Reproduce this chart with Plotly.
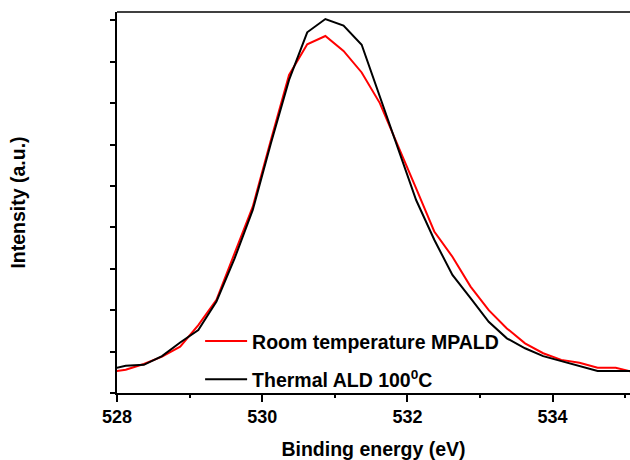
import plotly.graph_objects as go

# Binding energy grid (eV)
energy = [527.87, 528.12, 528.37, 528.62, 528.87, 529.12, 529.37, 529.62, 529.87,
          530.12, 530.37, 530.62, 530.87, 531.12, 531.37, 531.62, 531.87, 532.12,
          532.37, 532.62, 532.87, 533.12, 533.37, 533.62, 533.87, 534.12, 534.37,
          534.62, 534.87, 535.12]

# O 1s intensity (arbitrary units)
room_temp_mpald = [0.50, 0.56, 0.70, 0.88, 1.12, 1.64, 2.25, 3.37, 4.50,
                   6.11, 7.68, 8.42, 8.62, 8.26, 7.74, 7.00, 5.95, 4.94,
                   3.90, 3.29, 2.57, 2.00, 1.56, 1.20, 0.96, 0.80, 0.73,
                   0.61, 0.61, 0.50]

thermal_ald = [0.56, 0.66, 0.68, 0.89, 1.22, 1.52, 2.21, 3.25, 4.42,
               6.03, 7.56, 8.71, 9.03, 8.87, 8.41, 7.16, 5.91, 4.66,
               3.70, 2.85, 2.29, 1.72, 1.32, 1.08, 0.89, 0.77, 0.64,
               0.53, 0.53, 0.53]

x_ticks = [528, 530, 532, 534]

FONT = "Liberation Sans, Arial, Helvetica, sans-serif"

fig = go.Figure()
fig.add_trace(go.Scatter(
    x=energy, y=room_temp_mpald, mode="lines",
    name="Room temperature MPALD", legendgroup="a",
    line=dict(color="#ff0000", width=2),
))
fig.add_trace(go.Scatter(
    x=energy, y=thermal_ald, mode="lines",
    name="Thermal ALD 100<sup>0</sup>C", legendgroup="b",
    line=dict(color="#000000", width=2),
))

fig.update_layout(
    width=630, height=460,
    margin=dict(l=117, r=0, t=12, b=67),
    paper_bgcolor="white", plot_bgcolor="white",
    font=dict(family=FONT, size=19, color="black", weight="bold"),
    showlegend=True,
    legend=dict(
        x=0.162, y=0.187, xanchor="left", yanchor="top",
        bgcolor="rgba(0,0,0,0)", tracegroupgap=10, itemwidth=42,
        font=dict(family=FONT, size=19.5, weight="bold"),
    ),
    xaxis=dict(
        range=[528, 535.066],
        tickvals=x_ticks, ticktext=[str(v) for v in x_ticks],
        ticks="outside", ticklen=7, tickwidth=1.5, tickcolor="black",
        minor=dict(dtick=1, ticks="outside", ticklen=3, tickwidth=1.5, tickcolor="black"),
        showline=True, linecolor="black", linewidth=1.5,
        showgrid=False, zeroline=False,
        tickfont=dict(family=FONT, size=18, weight="bold"),
        title=dict(text="Binding energy (eV)", standoff=16,
                   font=dict(family=FONT, size=19.5, weight="bold")),
    ),
    yaxis=dict(
        range=[0, 9.2], dtick=1, tick0=0,
        showticklabels=False,
        ticks="outside", ticklen=5, tickwidth=1.5, tickcolor="black",
        showline=True, linecolor="black", linewidth=1.5,
        showgrid=False, zeroline=False,
        title=dict(text="Intensity (a.u.)", standoff=79,
                   font=dict(family=FONT, size=19.5, weight="bold")),
    ),
    shapes=[dict(type="line", xref="paper", yref="paper", x0=0, x1=1, y0=1, y1=1,
                 line=dict(color="black", width=1.5))],
)

fig.write_html("out.html")
